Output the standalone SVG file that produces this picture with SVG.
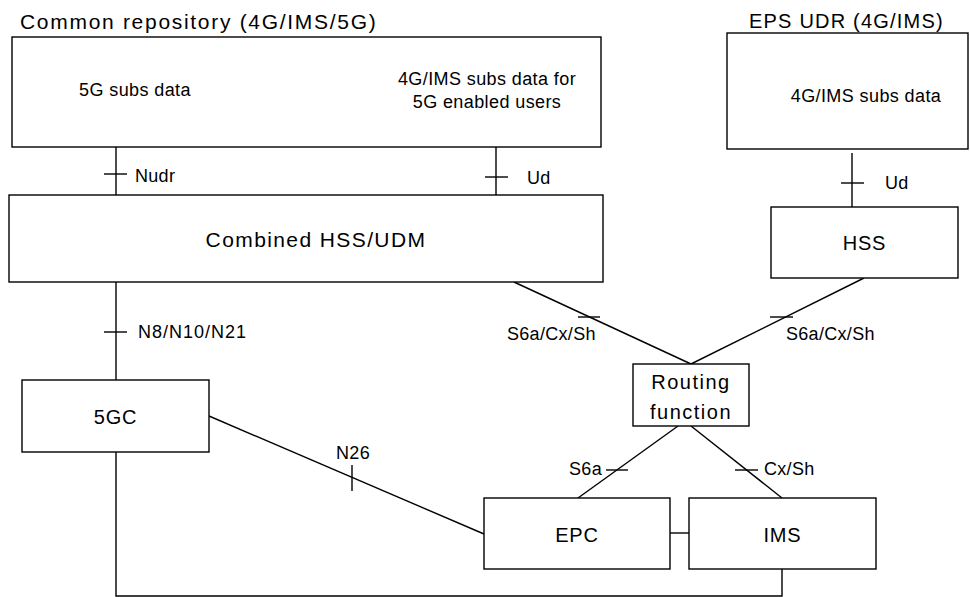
<svg xmlns="http://www.w3.org/2000/svg" width="970" height="597" viewBox="0 0 970 597">
<style>
.box{fill:#fff;stroke:#000;stroke-width:1.4}
.ln{fill:none;stroke:#000;stroke-width:1.4}
text{font-family:"Liberation Sans",Arial,sans-serif;fill:#000}
.title{font-size:20px;letter-spacing:1px}
.body{font-size:18px;letter-spacing:0.4px}
.name{font-size:20px;letter-spacing:0.8px}
.lbl{font-size:18px;letter-spacing:0.3px}
</style>
<rect width="970" height="597" fill="#fff"/>
<g id="connectors">
<line class="ln" x1="116" y1="147" x2="116" y2="195"/>
<line class="ln" x1="104" y1="174" x2="127" y2="174"/>
<text class="lbl" x="135" y="182">Nudr</text>
<line class="ln" x1="496" y1="147" x2="496" y2="195"/>
<line class="ln" x1="485" y1="177" x2="508" y2="177"/>
<text class="lbl" x="527" y="184">Ud</text>
<line class="ln" x1="852" y1="153" x2="852" y2="207"/>
<line class="ln" x1="841" y1="183" x2="864" y2="183"/>
<text class="lbl" x="885" y="189">Ud</text>
<line class="ln" x1="116" y1="282" x2="116" y2="380"/>
<line class="ln" x1="104" y1="332" x2="127" y2="332"/>
<text class="lbl" x="138" y="338" style="letter-spacing:1px">N8/N10/N21</text>
<polyline class="ln" points="116,452 116,596 782,596 782,569"/>
<line class="ln" x1="209" y1="416" x2="484" y2="534"/>
<line class="ln" x1="352" y1="465" x2="352" y2="491"/>
<text class="lbl" x="353" y="459" text-anchor="middle">N26</text>
<line class="ln" x1="670" y1="533" x2="689" y2="533"/>
<line class="ln" x1="514" y1="282" x2="691" y2="364"/>
<line class="ln" x1="578" y1="317" x2="600" y2="317"/>
<text class="lbl" x="507" y="340">S6a/Cx/Sh</text>
<line class="ln" x1="864" y1="278" x2="691" y2="364"/>
<line class="ln" x1="770" y1="317" x2="793" y2="317"/>
<text class="lbl" x="786" y="340">S6a/Cx/Sh</text>
<line class="ln" x1="678" y1="426" x2="578" y2="498"/>
<line class="ln" x1="606" y1="470" x2="628" y2="470"/>
<text class="lbl" x="602" y="475" text-anchor="end">S6a</text>
<line class="ln" x1="691" y1="426" x2="782" y2="498"/>
<line class="ln" x1="735" y1="470" x2="758" y2="470"/>
<text class="lbl" x="764" y="475">Cx/Sh</text>
</g>
<g id="common-repository">
<text class="title" x="20" y="29" style="font-size:21px;letter-spacing:1.7px">Common repository (4G/IMS/5G)</text>
<rect class="box" x="12" y="37" width="589" height="110"/>
<text class="body" x="135" y="96" text-anchor="middle">5G subs data</text>
<text class="body" x="487" y="85" text-anchor="middle">4G/IMS subs data for</text>
<text class="body" x="487" y="108" text-anchor="middle">5G enabled users</text>
</g>
<g id="eps-udr">
<text class="title" x="749" y="28" style="letter-spacing:1.2px">EPS UDR (4G/IMS)</text>
<rect class="box" x="727" y="33" width="241" height="116"/>
<text class="body" x="866" y="102" text-anchor="middle">4G/IMS subs data</text>
</g>
<g id="combined-hss-udm">
<rect class="box" x="9" y="195" width="594" height="87"/>
<text class="name" x="316" y="247" text-anchor="middle" style="font-size:21px;letter-spacing:1.4px">Combined HSS/UDM</text>
</g>
<g id="hss">
<rect class="box" x="771" y="207" width="187" height="71"/>
<text class="name" x="864.5" y="250" text-anchor="middle">HSS</text>
</g>
<g id="fivegc">
<rect class="box" x="22" y="380" width="187" height="72"/>
<text class="name" x="115.5" y="424" text-anchor="middle">5GC</text>
</g>
<g id="routing-function">
<rect class="box" x="633" y="364" width="116" height="62"/>
<text class="name" x="691" y="389" text-anchor="middle" style="letter-spacing:1.5px">Routing</text>
<text class="name" x="691" y="419" text-anchor="middle" style="letter-spacing:1.5px">function</text>
</g>
<g id="epc">
<rect class="box" x="484" y="498" width="186" height="71"/>
<text class="name" x="577" y="542" text-anchor="middle">EPC</text>
</g>
<g id="ims">
<rect class="box" x="689" y="498" width="187" height="71"/>
<text class="name" x="782.5" y="542" text-anchor="middle">IMS</text>
</g>
</svg>
